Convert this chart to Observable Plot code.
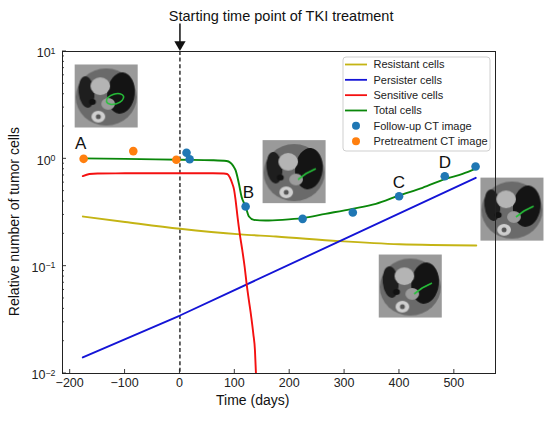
<!DOCTYPE html>
<html><head><meta charset="utf-8">
<script src="https://cdn.jsdelivr.net/npm/d3@7"></script>
<script src="https://cdn.jsdelivr.net/npm/@observablehq/plot@0.6"></script>
<style>
body{margin:0;background:#fff}
#chart{position:relative;width:550px;height:422px}
</style>
</head><body><div id="chart"></div>
<script>
const FONT = '"Liberation Sans", Arial, Helvetica, sans-serif';

// ---- data ----
const resistantDays = [-177, -100, 0, 110, 175, 290, 400, 540];
const resistantVals = [0.29, 0.258, 0.223, 0.198, 0.189, 0.171, 0.16, 0.156];

const persisterDays = [-177, 0, 539];
const persisterVals = [0.0141, 0.0347, 0.665];

const sensitiveDays = [-177, -165, -150, -100, 0, 60, 80, 86, 91, 95.5, 98.5, 101.5, 105, 109, 113.7, 118, 121.5, 125.7, 130, 133.7, 136.7, 138.5];
const sensitiveVals = [0.69, 0.722, 0.73, 0.733, 0.733, 0.733, 0.73, 0.722, 0.67, 0.585, 0.52, 0.409, 0.286, 0.2, 0.14, 0.0977, 0.0684, 0.0478, 0.0334, 0.0234, 0.0164, 0.01];

const totalDays = [-177, -100, 0, 60, 85, 92, 97, 101.5, 107.5, 112.4, 119.7, 125.7, 134.8, 156, 187, 223, 265, 314, 357, 399, 442, 484, 515, 539];
const totalVals = [1.01, 1.0, 0.98, 0.97, 0.955, 0.92, 0.86, 0.78, 0.585, 0.44, 0.36, 0.29, 0.27, 0.266, 0.27, 0.28, 0.307, 0.342, 0.381, 0.455, 0.537, 0.65, 0.724, 0.81];

const followDays = [12, 17.7, 119.7, 223.5, 315, 399.3, 482.6, 538.7];
const followVals = [1.14, 0.99, 0.36, 0.276, 0.316, 0.448, 0.689, 0.848];

const pretreatDays = [-175.5, -85, -6.6];
const pretreatVals = [1.0, 1.18, 0.98];

const letterText = ["A", "B", "C", "D"];
const letterDays = [-181, 125, 399, 483];
const letterVals = [1.39, 0.489, 0.605, 0.93];

const ctDays = [-134.4, 208, 419.7, 605];
const ctVals = [3.85, 0.76, 0.0653, 0.34];
const ctVariant = [0, 1, 2, 3];

const xTicks = [-200, -100, 0, 100, 200, 300, 400, 500];
const yMajor = [0.01, 0.1, 1, 10];
const yExp = ["−2", "−1", "0", "1"];

const legendLabels = ["Resistant cells", "Persister cells", "Sensitive cells", "Total cells", "Follow-up CT image", "Pretreatment CT image"];

const titleText = "Starting time point of TKI treatment";
const xLabel = "Time (days)";
const yLabel = "Relative number of tumor cells";

const C = {
  resistant: "#c4b414", persister: "#1414d6", sensitive: "#f41010", total: "#0a870a",
  follow: "#1f77b4", pre: "#ff7f0e"
};

// ---- build tables ----
const zip = (d, v) => d.map((x, i) => ({day: x, value: v[i]}));
const resistant = zip(resistantDays, resistantVals);
const persister = zip(persisterDays, persisterVals);
const sensitive = zip(sensitiveDays, sensitiveVals);
const total = zip(totalDays, totalVals);
const follow = zip(followDays, followVals);
const pretreat = zip(pretreatDays, pretreatVals);
const letters = letterText.map((t, i) => ({text: t, day: letterDays[i], value: letterVals[i]}));

// stylised CT slice thumbnails (the originals are photos)
function ctImage(variant) {
  const c = document.createElement("canvas");
  c.width = 64; c.height = 64;
  const g = c.getContext("2d");
  g.fillStyle = "#9a9a9a"; g.fillRect(0, 0, 64, 64);
  g.fillStyle = "#6a6a6a";
  g.beginPath(); g.ellipse(32, 33, 31, 29, 0, 0, Math.PI * 2); g.fill();
  g.fillStyle = "#141414";
  g.beginPath(); g.ellipse(47, 29, 14, 21, 0.1, 0, Math.PI * 2); g.fill();
  g.fillStyle = "#1e1e1e";
  g.beginPath(); g.ellipse(12, 28, 8, 16, -0.1, 0, Math.PI * 2); g.fill();
  g.fillStyle = "#b4b4b4";
  g.beginPath(); g.ellipse(26, 22, 10, 9, 0, 0, Math.PI * 2); g.fill();
  g.fillStyle = "#9c9c9c";
  g.beginPath(); g.ellipse(34, 40, 7, 6, 0, 0, Math.PI * 2); g.fill();
  g.fillStyle = "#121212";
  g.beginPath(); g.ellipse(18, 38, 3.5, 3, 0, 0, Math.PI * 2); g.fill();
  g.fillStyle = "#cfcfcf";
  g.beginPath(); g.ellipse(24, 53, 7, 6, 0, 0, Math.PI * 2); g.fill();
  g.fillStyle = "#555";
  g.beginPath(); g.ellipse(24, 53, 2.5, 2.5, 0, 0, Math.PI * 2); g.fill();
  g.strokeStyle = "#27c23a"; g.lineWidth = 1.6;
  g.beginPath();
  if (variant === 0) { g.ellipse(41, 35, 9, 5, -0.3, 0, Math.PI * 2); }
  else { g.moveTo(36, 40); g.lineTo(44, 34); g.lineTo(54, 29); }
  g.stroke();
  return c.toDataURL();
}
const ctImages = ctVariant.map((v, i) => ({day: ctDays[i], value: ctVals[i], src: ctImage(v)}));

const fmtX = d => d < 0 ? "−" + (-d) : String(d);

// axes with inward ticks + legend, drawn from Plot's scales
function axesAndLegend(index, scales, values, dims) {
  const {x, y} = scales;
  const left = dims.marginLeft, right = dims.width - dims.marginRight;
  const top = dims.marginTop, bottom = dims.height - dims.marginBottom;
  const g = d3.create("svg:g").attr("font-family", FONT).attr("text-anchor", "start");
  const ink = "#222";
  for (const t of xTicks) {
    const px = x(t);
    g.append("line").attr("x1", px).attr("x2", px).attr("y1", bottom).attr("y2", bottom - 4).attr("stroke", ink).attr("stroke-width", 0.9);
    g.append("text").attr("x", px).attr("y", bottom + 14).attr("text-anchor", "middle").attr("font-size", 12.5).attr("fill", ink).text(fmtX(t));
  }
  for (let k = 0; k < 3; k++) {
    for (let m = 2; m <= 9; m++) {
      const py = y(yMajor[k] * m);
      g.append("line").attr("x1", left).attr("x2", left + 2).attr("y1", py).attr("y2", py).attr("stroke", ink).attr("stroke-width", 0.8);
    }
  }
  yMajor.forEach((t, i) => {
    const py = y(t);
    g.append("line").attr("x1", left).attr("x2", left + 4).attr("y1", py).attr("y2", py).attr("stroke", ink).attr("stroke-width", 0.9);
    const tx = g.append("text").attr("x", left - 6.5).attr("y", py + 6.3).attr("text-anchor", "end").attr("font-size", 12.5).attr("fill", ink);
    tx.append("tspan").text("10");
    tx.append("tspan").attr("dy", -3.7).attr("font-size", 8.8).text(yExp[i]);
  });
  // legend
  const lx = right - 152, ly = top + 6, lw = 147, lh = 94, row = 15.33;
  g.append("rect").attr("x", lx).attr("y", ly).attr("width", lw).attr("height", lh).attr("rx", 3)
    .attr("fill", "white").attr("fill-opacity", 0.85).attr("stroke", "#cfcfcf").attr("stroke-width", 1);
  const lineCols = [C.resistant, C.persister, C.sensitive, C.total];
  const dotCols = [C.follow, C.pre];
  legendLabels.forEach((lab, i) => {
    const cy = ly + 7.5 + i * row;
    if (i < 4) {
      g.append("line").attr("x1", lx + 2).attr("x2", lx + 24).attr("y1", cy).attr("y2", cy).attr("stroke", lineCols[i]).attr("stroke-width", 1.8);
    } else {
      g.append("circle").attr("cx", lx + 13).attr("cy", cy).attr("r", 4).attr("fill", dotCols[i - 4]);
    }
    g.append("text").attr("x", lx + 30.5).attr("y", cy + 3.9).attr("text-anchor", "start").attr("font-size", 11).attr("fill", "#222").text(lab);
  });
  return g.node();
}

const arrowData = [{day: 0, from: 18.2, to: 11.6}];
// y-axis title anchor (outside the frame, left of the tick labels)
const yLabelPos = [{day: -302, value: 0.26, text: yLabel}];
const xLabelPos = [{day: 132.6, text: xLabel}];
const titlePos = [{day: -20.2, text: titleText}];

const plot = Plot.plot({
  width: 550, height: 422,
  marginLeft: 62, marginRight: 55, marginTop: 51, marginBottom: 49,
  style: {fontFamily: FONT, background: "white", overflow: "visible"},
  x: {domain: [-214, 575], axis: null},
  y: {type: "log", domain: [0.01, 10], axis: null},
  marks: [
    Plot.ruleX([0], {stroke: "#111", strokeWidth: 1.3, strokeDasharray: "4,2.6"}),
    Plot.line(resistant, {x: "day", y: "value", stroke: C.resistant, strokeWidth: 1.9, clip: true, curve: "monotone-x"}),
    Plot.line(persister, {x: "day", y: "value", stroke: C.persister, strokeWidth: 1.9, clip: true}),
    Plot.line(sensitive, {x: "day", y: "value", stroke: C.sensitive, strokeWidth: 1.9, clip: true, curve: "monotone-x"}),
    Plot.line(total, {x: "day", y: "value", stroke: C.total, strokeWidth: 1.9, clip: true, curve: "monotone-x"}),
    Plot.image(ctImages, {x: "day", y: "value", src: "src", width: 63, height: 63}),
    Plot.dot(pretreat, {x: "day", y: "value", fill: C.pre, r: 4.3}),
    Plot.dot(follow, {x: "day", y: "value", fill: C.follow, r: 4.3}),
    Plot.text(letters, {x: "day", y: "value", text: "text", fontSize: 17, fill: "#111"}),
    Plot.frame({stroke: "#222", strokeWidth: 1}),
    axesAndLegend,
    Plot.link(arrowData, {x1: "day", x2: "day", y1: "from", y2: "to", stroke: "#111", strokeWidth: 1.5}),
    Plot.dot(arrowData, {x: "day", y: "to", symbol: "triangle", rotate: 180, r: 4.2, fill: "#111", stroke: "none"}),
    Plot.text(titlePos, {x: "day", text: "text", frameAnchor: "top", dy: -41, textAnchor: "start", fontSize: 14.5, fill: "#111"}),
    Plot.text(xLabelPos, {x: "day", text: "text", frameAnchor: "bottom", dy: 31, fontSize: 14, fill: "#111"}),
    Plot.text(yLabelPos, {x: "day", y: "value", text: "text", rotate: -90, fontSize: 14, fill: "#111"})
  ]
});
document.getElementById("chart").appendChild(plot);
</script>
</body></html>
